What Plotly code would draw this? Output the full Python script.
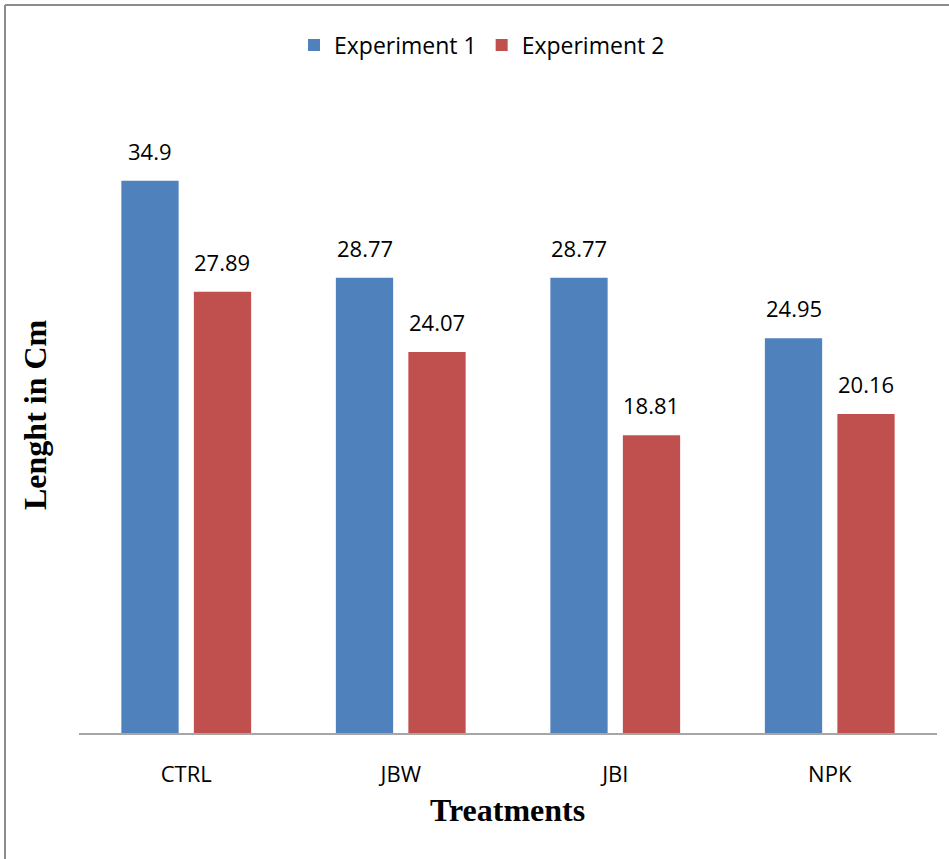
import plotly.graph_objects as go

categories = ["CTRL", "JBW", "JBI", "NPK"]
exp1 = [34.9, 28.77, 28.77, 24.95]
exp2 = [27.89, 24.07, 18.81, 20.16]
exp1_labels = ["34.9", "28.77", "28.77", "24.95"]
exp2_labels = ["27.89", "24.07", "18.81", "20.16"]

W, H = 949, 859
L, R, T, B = 79, 12, 100, 126
pw, ph = W - L - R, H - T - B

def px(x):
    return (x - L) / pw

def py(y):
    return (H - B - y) / ph

sans = "Open Sans, Lato, sans-serif"
serif = "Liberation Serif, Times New Roman, serif"

fig = go.Figure()
fig.add_trace(go.Bar(name="Experiment 1", x=categories, y=exp1,
                     marker=dict(color="#4F81BD", line=dict(width=0))))
fig.add_trace(go.Bar(name="Experiment 2", x=categories, y=exp2,
                     marker=dict(color="#C0504D", line=dict(width=0))))

annotations = []
for cat, v, t in zip(categories, exp1, exp1_labels):
    annotations.append(dict(x=cat, y=v, xref="x", yref="y", text=t, showarrow=False,
                            xshift=-36, yshift=13, yanchor="bottom",
                            font=dict(family=sans, size=22, color="#000000")))
for cat, v, t in zip(categories, exp2, exp2_labels):
    annotations.append(dict(x=cat, y=v, xref="x", yref="y", text=t, showarrow=False,
                            xshift=36, yshift=13, yanchor="bottom",
                            font=dict(family=sans, size=22, color="#000000")))
annotations.append(dict(x=px(507), y=py(810), xref="paper", yref="paper",
                        text="<b>Treatments</b>", showarrow=False,
                        xanchor="center", yanchor="middle",
                        font=dict(family=serif, size=32, color="#000000")))
annotations.append(dict(x=px(35), y=py(415), xref="paper", yref="paper",
                        text="<b>Lenght in Cm</b>", showarrow=False, textangle=-90,
                        xanchor="center", yanchor="middle",
                        font=dict(family=serif, size=32, color="#000000")))

border = dict(type="line", xref="paper", yref="paper", line=dict(color="#8C8C8C", width=2))
fig.update_layout(
    width=W, height=H,
    margin=dict(l=L, r=R, t=T, b=B, autoexpand=False),
    paper_bgcolor="white", plot_bgcolor="white",
    barmode="group", bargap=0.324, bargroupgap=0.21,
    showlegend=True,
    legend=dict(orientation="h", x=px(482), xanchor="center", y=py(45), yanchor="middle",
                font=dict(family=sans, size=23, color="#000000"),
                itemwidth=30, traceorder="normal"),
    xaxis=dict(showline=True, linecolor="#A6A6A6", linewidth=2, ticks="",
               ticklabelstandoff=21, automargin=False,
               tickfont=dict(family=sans, size=22, color="#000000")),
    yaxis=dict(range=[0, 40], showgrid=False, showticklabels=False, zeroline=False,
               ticks="", automargin=False),
    annotations=annotations,
    shapes=[
        dict(border, x0=px(5), x1=px(5), y0=py(5), y1=py(859)),
        dict(border, x0=px(5), x1=px(949), y0=py(5), y1=py(5)),
    ],
)
fig.write_html("out.html", config={"displayModeBar": False},
               post_script="document.body.style.margin='0';")
